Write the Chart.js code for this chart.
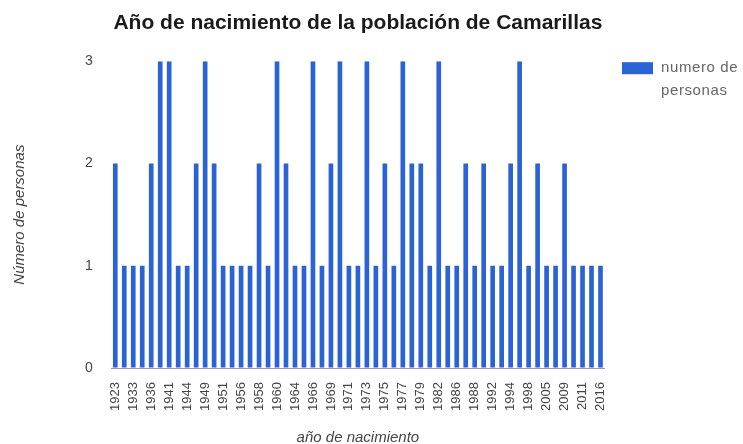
<!DOCTYPE html>
<html>
<head>
<meta charset="utf-8">
<script src="https://cdn.jsdelivr.net/npm/chart.js@4/dist/chart.umd.min.js"></script>
<style>
  html, body { margin: 0; padding: 0; background: #fff; }
  #wrap { width: 743px; height: 444px; position: relative; }
</style>
</head>
<body>
<div id="wrap"><canvas id="chart"></canvas></div>
<script>
// años (categorias del eje x)
var years = [1923, 1930, 1933, 1935, 1936, 1939, 1941, 1942, 1944, 1947,
             1949, 1950, 1951, 1954, 1956, 1957, 1958, 1959, 1960, 1962,
             1964, 1965, 1966, 1967, 1969, 1970, 1971, 1972, 1973, 1974,
             1975, 1976, 1977, 1978, 1979, 1980, 1982, 1984, 1986, 1987,
             1988, 1990, 1992, 1993, 1994, 1996, 1998, 2001, 2005, 2007,
             2009, 2010, 2011, 2013, 2016];
// numero de personas por año
var personas = [2, 1, 1, 1, 2, 3, 3, 1, 1, 2,
                3, 2, 1, 1, 1, 1, 2, 1, 3, 2,
                1, 1, 3, 1, 2, 3, 1, 1, 3, 1,
                2, 1, 3, 2, 2, 1, 3, 1, 1, 2,
                1, 2, 1, 1, 2, 3, 1, 2, 1, 1,
                2, 1, 1, 1, 1];
var yTicks = [0, 1, 2, 3];
var seriesName = ['numero de', 'personas'];

var FONT = "'Liberation Sans', Arial, sans-serif";
var NARROW = "'Liberation Sans Narrow', 'Liberation Sans', Arial, sans-serif";
var BLUE = '#2b63d4';

// leyenda a la derecha, en dos lineas
var sideLegend = {
    id: 'sideLegend',
    afterDraw: function(chart) {
        var ctx = chart.ctx;
        var area = chart.chartArea;
        var x = area.right + 17;
        var y = area.top + 1;
        ctx.save();
        ctx.fillStyle = chart.data.datasets[0].backgroundColor;
        ctx.fillRect(x, y, 31, 12);
        ctx.fillStyle = '#666';
        ctx.font = '15px ' + FONT;
        if ('letterSpacing' in ctx) ctx.letterSpacing = '0.6px';
        ctx.textBaseline = 'middle';
        var lines = chart.data.datasets[0].label;
        for (var i = 0; i < lines.length; i++) {
            ctx.fillText(lines[i], x + 39, y + 6 + i * 23);
        }
        ctx.restore();
    }
};

new Chart(document.getElementById('chart'), {
    type: 'bar',
    data: {
        labels: years,
        datasets: [{
            label: seriesName,
            data: personas,
            backgroundColor: BLUE,
            barPercentage: 0.52,
            categoryPercentage: 1.0
        }]
    },
    options: {
        responsive: true,
        maintainAspectRatio: false,
        animation: false,
        layout: { padding: { left: 11, right: 138, top: 0, bottom: -3 } },
        plugins: {
            legend: { display: false },
            tooltip: { enabled: false },
            title: {
                display: true,
                fullSize: false,
                text: 'Año de nacimiento de la población de Camarillas',
                color: '#1a1a1a',
                font: { family: FONT, size: 21, weight: 'bold' },
                padding: { top: 11, bottom: 25 }
            }
        },
        scales: {
            x: {
                grid: { display: false, drawTicks: false },
                border: { display: false },
                ticks: {
                    autoSkip: false,
                    maxRotation: 90,
                    minRotation: 90,
                    padding: 14,
                    color: '#444',
                    font: { family: FONT, size: 13 },
                    callback: function(v, i) { return i % 2 === 0 ? String(years[i]) : ''; }
                },
                title: {
                    display: true,
                    text: 'año de nacimiento',
                    color: '#444',
                    font: { family: FONT, size: 15, style: 'italic' },
                    padding: { top: 4, bottom: 0 }
                }
            },
            y: {
                min: 0,
                max: 3,
                afterBuildTicks: function(axis) {
                    axis.ticks = yTicks.map(function(v) { return { value: v }; });
                },
                border: { display: false },
                grid: {
                    drawTicks: false,
                    color: function(c) { return c.tick && c.tick.value === 0 ? '#999' : 'rgba(0,0,0,0)'; }
                },
                ticks: {
                    padding: 18,
                    color: '#444',
                    font: { family: NARROW, size: 14 }
                },
                title: {
                    display: true,
                    text: 'Número de personas',
                    color: '#444',
                    font: { family: FONT, size: 15, style: 'italic' },
                    padding: { top: 0, bottom: 38 }
                }
            }
        }
    },
    plugins: [sideLegend]
});
</script>
</body>
</html>
